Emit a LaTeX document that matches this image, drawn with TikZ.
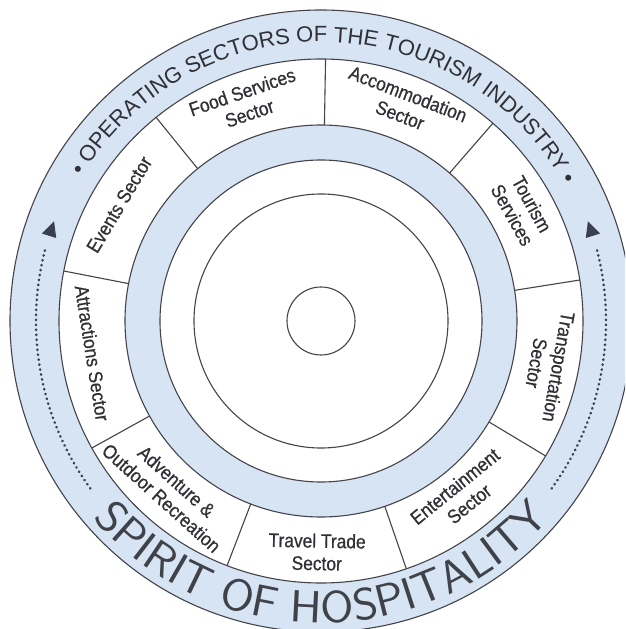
\documentclass[tikz,border=0pt]{standalone}
\usepackage{fontspec}
\setmainfont{Liberation Sans}
\newfontfamily\labelfont{Liberation Sans}[FakeStretch=0.89, FakeBold=0.6]
\newfontfamily\titlefont{Liberation Sans}
\newfontfamily\handfont{lmsans17-regular.otf}[FakeStretch=1.07]
\usetikzlibrary{decorations.text}
\definecolor{bandblue}{RGB}{214,228,243}
\definecolor{inkgray}{RGB}{48,48,54}
\definecolor{handgray}{RGB}{64,66,74}
\definecolor{linegray}{RGB}{68,68,74}
\definecolor{tipgray}{RGB}{58,64,78}

\tikzset{
  ring/.style={draw=linegray, line width=1.1pt},
  divider/.style={draw=linegray, line width=1.1pt},
  sector/.style={font=\labelfont\fontsize{19.5}{22.5}\selectfont, align=center,
                 text=inkgray, inner sep=0pt},
  dotline/.style={draw=tipgray, line width=2.5pt, line cap=round,
                  dash pattern=on 0.5pt off 4.5pt},
}

\begin{document}
\begin{tikzpicture}[x=1pt,y=1pt]
  \useasboundingbox (-321,-308) rectangle (304,321);
  \fill[white] (-321,-308) rectangle (304,321);
  \clip (-321,-308) rectangle (304,321);

  % outer band and inner band
  \fill[bandblue] (0,0) circle (311);
  \fill[white] (0,0) circle (262);
  \fill[bandblue] (0,0) circle (196);
  \fill[white] (0,0) circle (161);

  % concentric rings
  \foreach \r in {311,262,196,161,127,34}
    \draw[ring] (0,0) circle (\r);

  % sector dividers
  \foreach \k in {0,...,8}
    \draw[divider] ({89+40*\k}:196) -- ({89+40*\k}:262);

  % sector labels
  \node[sector, rotate=19]   (food)    at (109:231) {Food Services\\Sector};
  \node[sector, rotate=-21]  (accom)   at (69:232)  {Accommodation\\Sector};
  \node[sector, rotate=-61]  (tourism) at (29:230)  {Tourism\\Services};
  \node[sector, rotate=-100] (transp)  at (-11:231) {Transportation\\Sector};
  \node[sector, rotate=39]   (entert)  at (-51:224) {Entertainment\\Sector};
  \node[sector, rotate=-1]   (travel)  at (-91:231) {Travel Trade\\Sector};
  \node[sector, rotate=-42]  (advent)  at (228:227) {Adventure \&\\Outdoor Recreation};
  \node[sector, rotate=-81]  (attract) at (188:231) {Attractions Sector};
  \node[sector, rotate=59]   (events)  at (150:233) {Events Sector};

  % title along the top of the outer band
  \path[decorate, decoration={text along path, text align=center, text color=inkgray,
        text={|\titlefont\fontsize{22}{22}\selectfont|• OPERATING SECTORS OF THE TOURISM INDUSTRY •}}]
    (154:279) arc[start angle=154, end angle=24, radius=279];

  % motto along the bottom of the outer band
  \path[decorate, decoration={text along path, text align=center, text color=handgray,
        text={|\handfont\fontsize{45}{45}\selectfont|SPIRIT OF HOSPITALITY}}]
    (200:302) arc[start angle=200, end angle=340, radius=302];

  % dotted arrows climbing both sides
  \draw[dotline] (216:285) arc[start angle=216, end angle=165, radius=285];
  \fill[tipgray] (159.5:285) -- (162.6:277.5) -- (162.6:292.5) -- cycle;
  \draw[dotline] (-36:285) arc[start angle=-36, end angle=15, radius=285];
  \fill[tipgray] (20.5:285) -- (17.4:277.5) -- (17.4:292.5) -- cycle;
\end{tikzpicture}
\end{document}
